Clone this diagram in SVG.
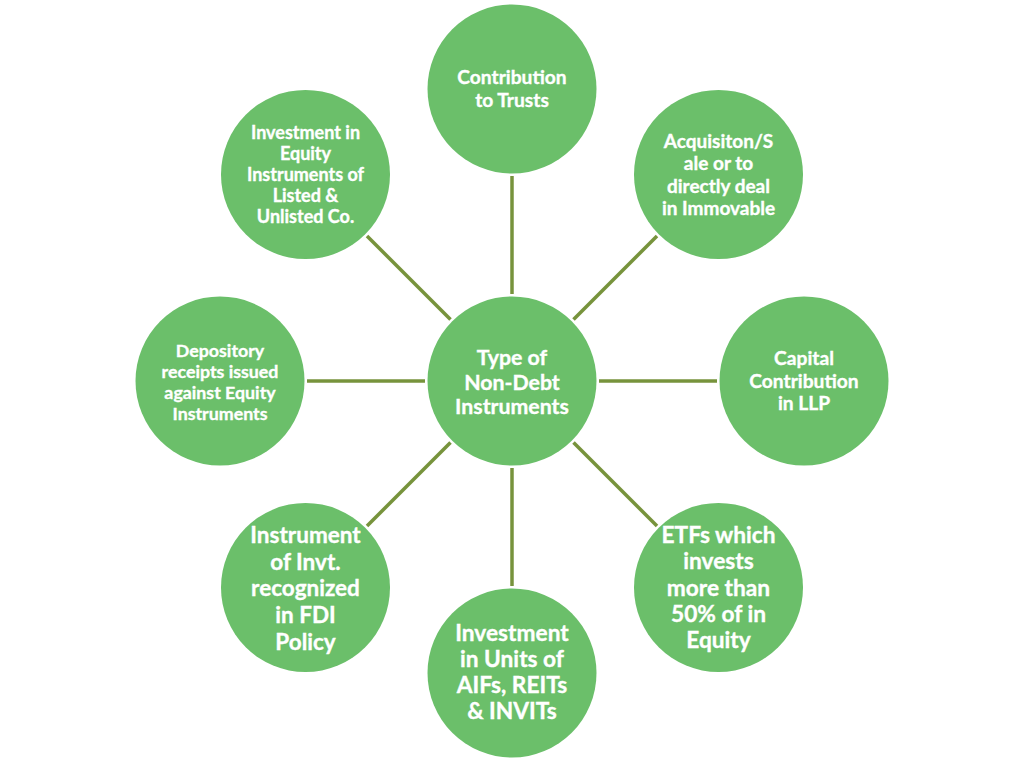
<svg xmlns="http://www.w3.org/2000/svg" width="1024" height="763" viewBox="0 0 1024 763">
<style>
.c{fill:#6BBF6A;}
.t{fill:#ffffff;stroke:#ffffff;stroke-width:0.35;font-family:Lato,"Open Sans","Liberation Sans",sans-serif;font-weight:bold;text-anchor:middle;}
.ln{stroke:#77933C;stroke-width:3.5;fill:none;}
</style>
<rect width="1024" height="763" fill="#ffffff"/>
<g id="connectors">
<line class="ln" x1="512" y1="294" x2="512" y2="176"/>
<line class="ln" x1="573.5" y1="319.5" x2="657" y2="236"/>
<line class="ln" x1="599" y1="381" x2="717" y2="381"/>
<line class="ln" x1="573.5" y1="442.5" x2="657" y2="526"/>
<line class="ln" x1="512" y1="468" x2="512" y2="586"/>
<line class="ln" x1="450.5" y1="442.5" x2="367" y2="526"/>
<line class="ln" x1="425" y1="381" x2="307" y2="381"/>
<line class="ln" x1="450.5" y1="319.5" x2="367" y2="236"/>
</g>
<g id="center">
<circle class="c" cx="512" cy="381" r="84.5"/>
<text class="t" font-size="21.3"><tspan x="512" y="364.5">Type of</tspan><tspan x="512" y="389.5">Non-Debt</tspan><tspan x="512" y="413.5">Instruments</tspan></text>
</g>
<g id="top">
<circle class="c" cx="512" cy="89" r="84.5"/>
<text class="t" font-size="19.2"><tspan x="512" y="84">Contribution</tspan><tspan x="512" y="107">to Trusts</tspan></text>
</g>
<g id="top-right">
<circle class="c" cx="718.5" cy="174.5" r="84.5"/>
<text class="t" font-size="19"><tspan x="718.5" y="147.5">Acquisiton/S</tspan><tspan x="718.5" y="170">ale or to</tspan><tspan x="718.5" y="192.5">directly deal</tspan><tspan x="718.5" y="214.5">in Immovable</tspan></text>
</g>
<g id="right">
<circle class="c" cx="804" cy="381" r="84.5"/>
<text class="t" font-size="19.2"><tspan x="804" y="365">Capital</tspan><tspan x="804" y="388">Contribution</tspan><tspan x="804" y="410">in LLP</tspan></text>
</g>
<g id="bottom-right">
<circle class="c" cx="718.5" cy="587.5" r="84.5"/>
<text class="t" font-size="22.7"><tspan x="718.5" y="543">ETFs which</tspan><tspan x="718.5" y="569">invests</tspan><tspan x="718.5" y="596">more than</tspan><tspan x="718.5" y="622">50% of in</tspan><tspan x="718.5" y="648">Equity</tspan></text>
</g>
<g id="bottom">
<circle class="c" cx="512" cy="673" r="84.5"/>
<text class="t" font-size="22.7"><tspan x="512" y="641">Investment</tspan><tspan x="512" y="667">in Units of</tspan><tspan x="512" y="693">AIFs, REITs</tspan><tspan x="512" y="719">&amp; INVITs</tspan></text>
</g>
<g id="bottom-left">
<circle class="c" cx="305.5" cy="587.5" r="84.5"/>
<text class="t" font-size="22.5"><tspan x="305.5" y="543">Instrument</tspan><tspan x="305.5" y="570">of Invt.</tspan><tspan x="305.5" y="596">recognized</tspan><tspan x="305.5" y="623">in FDI</tspan><tspan x="305.5" y="650">Policy</tspan></text>
</g>
<g id="left">
<circle class="c" cx="220" cy="381" r="84.5"/>
<text class="t" font-size="17.8"><tspan x="220" y="356.5">Depository</tspan><tspan x="220" y="377.5">receipts issued</tspan><tspan x="220" y="398.5">against Equity</tspan><tspan x="220" y="419.5">Instruments</tspan></text>
</g>
<g id="top-left">
<circle class="c" cx="305.5" cy="174.5" r="84.5"/>
<text class="t" font-size="18"><tspan x="305.5" y="138.5">Investment in</tspan><tspan x="305.5" y="159.5">Equity</tspan><tspan x="305.5" y="180.5">Instruments of</tspan><tspan x="305.5" y="201.5">Listed &amp;</tspan><tspan x="305.5" y="222.5">Unlisted Co.</tspan></text>
</g>
</svg>
